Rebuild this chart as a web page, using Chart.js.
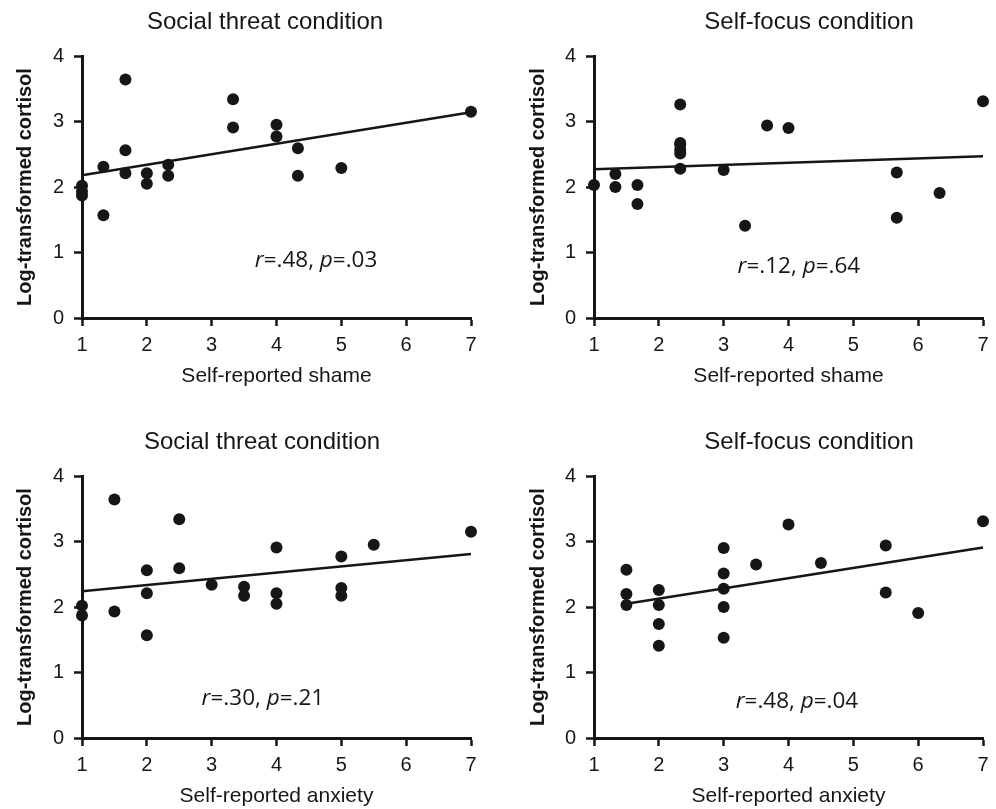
<!DOCTYPE html>
<html><head><meta charset="utf-8">
<script src="https://cdn.jsdelivr.net/npm/chart.js@4.4.1/dist/chart.umd.min.js"></script>
<style>
html,body{margin:0;padding:0;background:#fff;width:996px;height:809px;overflow:hidden}
.p{position:absolute;width:498px;height:389px}
canvas{display:block}
</style></head><body>
<div class="p" style="left:0;top:0"><canvas id="c1" width="498" height="389"></canvas></div>
<div class="p" style="left:498px;top:0"><canvas id="c2" width="498" height="389"></canvas></div>
<div class="p" style="left:0;top:420px"><canvas id="c3" width="498" height="389"></canvas></div>
<div class="p" style="left:498px;top:420px"><canvas id="c4" width="498" height="389"></canvas></div>
<script>
// ---- data ----
const panelTitles = ['Social threat condition', 'Self-focus condition', 'Social threat condition', 'Self-focus condition'];
const xAxisTitles = ['Self-reported shame', 'Self-reported shame', 'Self-reported anxiety', 'Self-reported anxiety'];
const yAxisTitle = 'Log-transformed cortisol';
const xTickValues = [1, 2, 3, 4, 5, 6, 7];
const yTickValues = [0, 1, 2, 3, 4];

const shameSocialX = [1,1,1,1.33,1.33,1.67,1.67,1.67,2,2,2.33,2.33,3.33,3.33,4,4,4.33,4.33,5,7];
const shameSocialY = [2.02,1.93,1.87,2.31,1.57,3.64,2.56,2.21,2.21,2.05,2.34,2.17,3.34,2.91,2.95,2.77,2.59,2.17,2.29,3.15];
const shameSelfX = [1,1.33,1.33,1.67,1.67,2.33,2.33,2.33,2.33,2.33,2.33,3,3.33,3.67,4,5.67,5.67,6.33,7];
const shameSelfY = [2.03,2.20,2.00,2.03,1.74,3.26,2.67,2.65,2.57,2.51,2.28,2.26,1.41,2.94,2.90,2.22,1.53,1.91,3.31];
const anxSocialX = [1,1,1.5,1.5,2,2,2,2.5,2.5,3,3.5,3.5,4,4,4,5,5,5,5.5,7];
const anxSocialY = [2.02,1.87,3.64,1.93,2.56,2.21,1.57,3.34,2.59,2.34,2.31,2.17,2.91,2.21,2.05,2.77,2.29,2.17,2.95,3.15];
const anxSelfX = [1.5,1.5,1.5,2,2,2,2,3,3,3,3,3,3.5,4,4.5,5.5,5.5,6,7];
const anxSelfY = [2.57,2.20,2.03,2.26,2.03,1.74,1.41,2.90,2.51,2.28,2.00,1.53,2.65,3.26,2.67,2.94,2.22,1.91,3.31];

const fitShameSocialX = [1, 7], fitShameSocialY = [2.18, 3.14];
const fitShameSelfX = [1, 7], fitShameSelfY = [2.27, 2.47];
const fitAnxSocialX = [1, 7], fitAnxSocialY = [2.24, 2.81];
const fitAnxSelfX = [1.5, 7], fitAnxSelfY = [2.05, 2.91];

const rValues = ['.48', '.12', '.30', '.48'];
const pValues = ['.03', '.64', '.21', '.04'];

// ---- layout (not data) ----
const panels = [
  {id:'c1', xs:shameSocialX, ys:shameSocialY, fx:fitShameSocialX, fy:fitShameSocialY, left:82, right:27, titleX:265, yTitlePad:13, annX:4.61, annY:0.88},
  {id:'c2', xs:shameSelfX, ys:shameSelfY, fx:fitShameSelfX, fy:fitShameSelfY, left:96, right:13, titleX:311, yTitlePad:28, annX:4.16, annY:0.78},
  {id:'c3', xs:anxSocialX, ys:anxSocialY, fx:fitAnxSocialX, fy:fitAnxSocialY, left:82, right:27, titleX:262, yTitlePad:13, annX:3.79, annY:0.60},
  {id:'c4', xs:anxSelfX, ys:anxSelfY, fx:fitAnxSelfX, fy:fitAnxSelfY, left:96, right:13, titleX:311, yTitlePad:28, annX:4.13, annY:0.55}
];

const INK = '#161616';
const SANS = '"Liberation Sans", Arial, sans-serif';

const textPlugin = {
  id: 'panelText',
  afterDraw(chart, args, o) {
    const ctx = chart.ctx;
    ctx.save();
    ctx.fillStyle = INK;
    ctx.textBaseline = 'middle';
    ctx.textAlign = 'center';
    ctx.font = '24px ' + SANS;
    ctx.fillText(o.title, o.titleX, 22);
    const cx = chart.scales.x.getPixelForValue(o.annX);
    const cy = chart.scales.y.getPixelForValue(o.annY);
    const fN = '22.5px "Open Sans", sans-serif';
    const fI = 'italic 22.5px "Open Sans", sans-serif';
    const parts = [['r', fI], ['=' + o.r + ', ', fN], ['p', fI], ['=' + o.p, fN]];
    let total = 0;
    parts.forEach(pt => { ctx.font = pt[1]; pt.push(ctx.measureText(pt[0]).width); total += pt[2]; });
    let x = cx - total / 2;
    ctx.textAlign = 'left';
    parts.forEach(pt => { ctx.font = pt[1]; ctx.fillText(pt[0], x, cy); x += pt[2]; });
    ctx.restore();
  }
};

panels.forEach((pn, i) => {
  const pts = pn.xs.map((x, k) => ({x: x, y: pn.ys[k]}));
  const fit = pn.fx.map((x, k) => ({x: x, y: pn.fy[k]}));
  new Chart(document.getElementById(pn.id), {
    type: 'scatter',
    data: {
      datasets: [
        {data: pts, pointRadius: 6, pointHoverRadius: 6, backgroundColor: INK, borderColor: INK, borderWidth: 0, clip: false, order: 1},
        {type: 'line', data: fit, borderColor: INK, borderWidth: 2.5, pointRadius: 0, fill: false, showLine: true, clip: false, order: 0}
      ]
    },
    plugins: [textPlugin],
    options: {
      responsive: false,
      animation: false,
      events: [],
      layout: {padding: {left: 0, right: pn.right, top: 56, bottom: 0}},
      plugins: {
        legend: {display: false},
        tooltip: {enabled: false},
        panelText: {title: panelTitles[i], titleX: pn.titleX, annX: pn.annX, annY: pn.annY, r: rValues[i], p: pValues[i]}
      },
      scales: {
        x: {
          type: 'linear', min: 1, max: 7,
          afterFit: s => { s.height = 389 - 318; },
          afterBuildTicks: s => { s.ticks = xTickValues.map(v => ({value: v})); },
          border: {display: true, color: INK, width: 3},
          grid: {drawOnChartArea: false, drawTicks: true, tickLength: 8, tickWidth: 2.5, tickColor: INK},
          ticks: {color: INK, padding: 7, font: {family: SANS, size: 20}, maxRotation: 0},
          title: {display: true, text: xAxisTitles[i], color: INK, font: {family: SANS, size: 21}, padding: {top: 0, bottom: 0}}
        },
        y: {
          type: 'linear', min: 0, max: 4,
          afterFit: s => { s.width = pn.left; },
          afterBuildTicks: s => { s.ticks = yTickValues.map(v => ({value: v})); },
          border: {display: true, color: INK, width: 3},
          grid: {drawOnChartArea: false, drawTicks: true, tickLength: 8, tickWidth: 2.5, tickColor: INK},
          ticks: {color: INK, padding: 10, font: {family: SANS, size: 20}},
          title: {display: true, text: yAxisTitle, color: INK, font: {family: SANS, size: 20, weight: 'bold'}, padding: {top: pn.yTitlePad, bottom: 0}}
        }
      }
    }
  });
});
</script>
</body></html>
